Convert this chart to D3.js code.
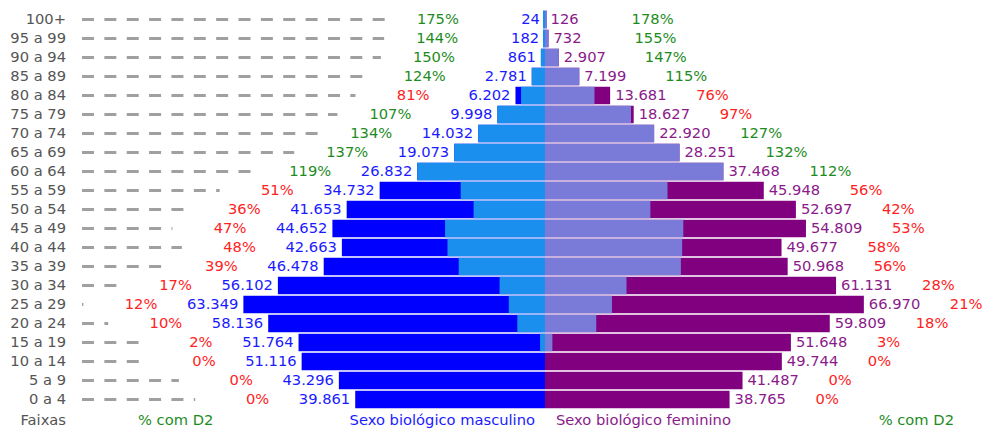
<!DOCTYPE html>
<html><head><meta charset="utf-8">
<script src="https://cdn.jsdelivr.net/npm/d3@7/dist/d3.min.js"></script>
<style>body{margin:0;background:#fff}svg{display:block}text{font-family:"DejaVu Sans",Verdana,sans-serif;font-size:14.7px}</style>
</head><body>
<svg id="c" width="983" height="428"></svg>
<script>
const faixas = ["100+","95 a 99","90 a 94","85 a 89","80 a 84","75 a 79","70 a 74","65 a 69","60 a 64","55 a 59","50 a 54","45 a 49","40 a 44","35 a 39","30 a 34","25 a 29","20 a 24","15 a 19","10 a 14","5 a 9","0 a 4"];
const masculino = [24,182,861,2781,6202,9998,14032,19073,26832,34732,41653,44652,42663,46478,56102,63349,58136,51764,51116,43296,39861];
const pctMasc = [175,144,150,124,81,107,134,137,119,51,36,47,48,39,17,12,10,2,0,0,0];
const feminino = [126,732,2907,7199,13681,18627,22920,28251,37468,45948,52697,54809,49677,50968,61131,66970,59809,51648,49744,41487,38765];
const pctFem = [178,155,147,115,76,97,127,132,112,56,42,53,58,56,28,21,18,3,0,0,0];
const rodape = ["Faixas","% com D2","Sexo biológico masculino","Sexo biológico feminino","% com D2"];

const C = {mDark:"#0000ff", mLight:"#1a8fee", fDark:"#800080", fLight:"#7a7ad8",
  mText:"#1a1aff", fText:"#8a1a8a", green:"#1d8c1d", red:"#ff2222", gray:"#555", dash:"#a0a0a0"};

const svg = d3.select("#c");
const cx = 545;
const y = d3.scaleBand().domain(faixas).range([10, 409]).paddingInner(0.08).paddingOuter(0.04);
const x = d3.scaleLinear().domain([0, 67000]).range([0, 319]);
const fmt = d3.formatLocale({decimal:",", thousands:".", grouping:[3], currency:["R$",""]}).format(",d");

const rows = faixas.map((f,i)=>({f, m:masculino[i], pm:pctMasc[i], w:feminino[i], pw:pctFem[i]}));
const bw = v => Math.max(x(v), 2);
const mid = d => y(d.f) + y.bandwidth()/2;

const g = svg.append("g");
// male total (dark)
g.selectAll(".md").data(rows).join("rect")
  .attr("x", d=>cx-bw(d.m)).attr("y", d=>y(d.f)).attr("width", d=>bw(d.m)).attr("height", y.bandwidth())
  .attr("fill", C.mDark);
// male vaccinated (light)
g.selectAll(".ml").data(rows).join("rect")
  .attr("x", d=>cx-bw(d.m*Math.min(d.pm,100)/100)).attr("y", d=>y(d.f))
  .attr("width", d=>d.pm>0?bw(d.m*Math.min(d.pm,100)/100):0).attr("height", y.bandwidth())
  .attr("fill", C.mLight);
// female total
g.selectAll(".fd").data(rows).join("rect")
  .attr("x", cx).attr("y", d=>y(d.f)).attr("width", d=>bw(d.w)).attr("height", y.bandwidth())
  .attr("fill", C.fDark);
g.selectAll(".fl").data(rows).join("rect")
  .attr("x", cx).attr("y", d=>y(d.f))
  .attr("width", d=>d.pw>0?bw(d.w*Math.min(d.pw,100)/100):0).attr("height", y.bandwidth())
  .attr("fill", C.fLight);

// labels
g.selectAll(".lab").data(rows).join("text")
  .attr("x", 66).attr("y", mid).attr("dy","0.3em").attr("text-anchor","end").attr("fill",C.gray).text(d=>d.f);
// dashed leaders
g.selectAll(".ld").data(rows).join("line")
  .attr("x1", 82).attr("x2", d=>cx-x(d.m)-160).attr("y1", mid).attr("y2", mid)
  .attr("stroke", C.dash).attr("stroke-width", 3).attr("stroke-dasharray","12,10.36");
// values
g.selectAll(".mv").data(rows).join("text")
  .attr("x", d=>cx-x(d.m)-5).attr("y", mid).attr("dy","0.3em").attr("text-anchor","end").attr("fill",C.mText).text(d=>fmt(d.m));
g.selectAll(".fv").data(rows).join("text")
  .attr("x", d=>cx+x(d.w)+5).attr("y", mid).attr("dy","0.3em").attr("fill",C.fText).text(d=>fmt(d.w));
g.selectAll(".mp").data(rows).join("text")
  .attr("x", d=>cx-x(d.m)-86).attr("y", mid).attr("dy","0.3em").attr("text-anchor","end")
  .attr("fill", d=>d.pm>=100?C.green:C.red).text(d=>d.pm+"%");
g.selectAll(".fp").data(rows).join("text")
  .attr("x", d=>cx+x(d.w)+86).attr("y", mid).attr("dy","0.3em")
  .attr("fill", d=>d.pw>=100?C.green:C.red).text(d=>d.pw+"%");

// footer
const fy = 420;
const foot = [
  {t:rodape[0], x:66, a:"end", c:C.gray},
  {t:rodape[1], x:138, a:"start", c:C.green},
  {t:rodape[2], x:535, a:"end", c:C.mText},
  {t:rodape[3], x:556, a:"start", c:C.fText},
  {t:rodape[4], x:954, a:"end", c:C.green}
];
g.selectAll(".ft").data(foot).join("text")
  .attr("x", d=>d.x).attr("y", fy).attr("dy","0.35em").attr("text-anchor", d=>d.a).attr("fill", d=>d.c).text(d=>d.t);
</script>
</body></html>
